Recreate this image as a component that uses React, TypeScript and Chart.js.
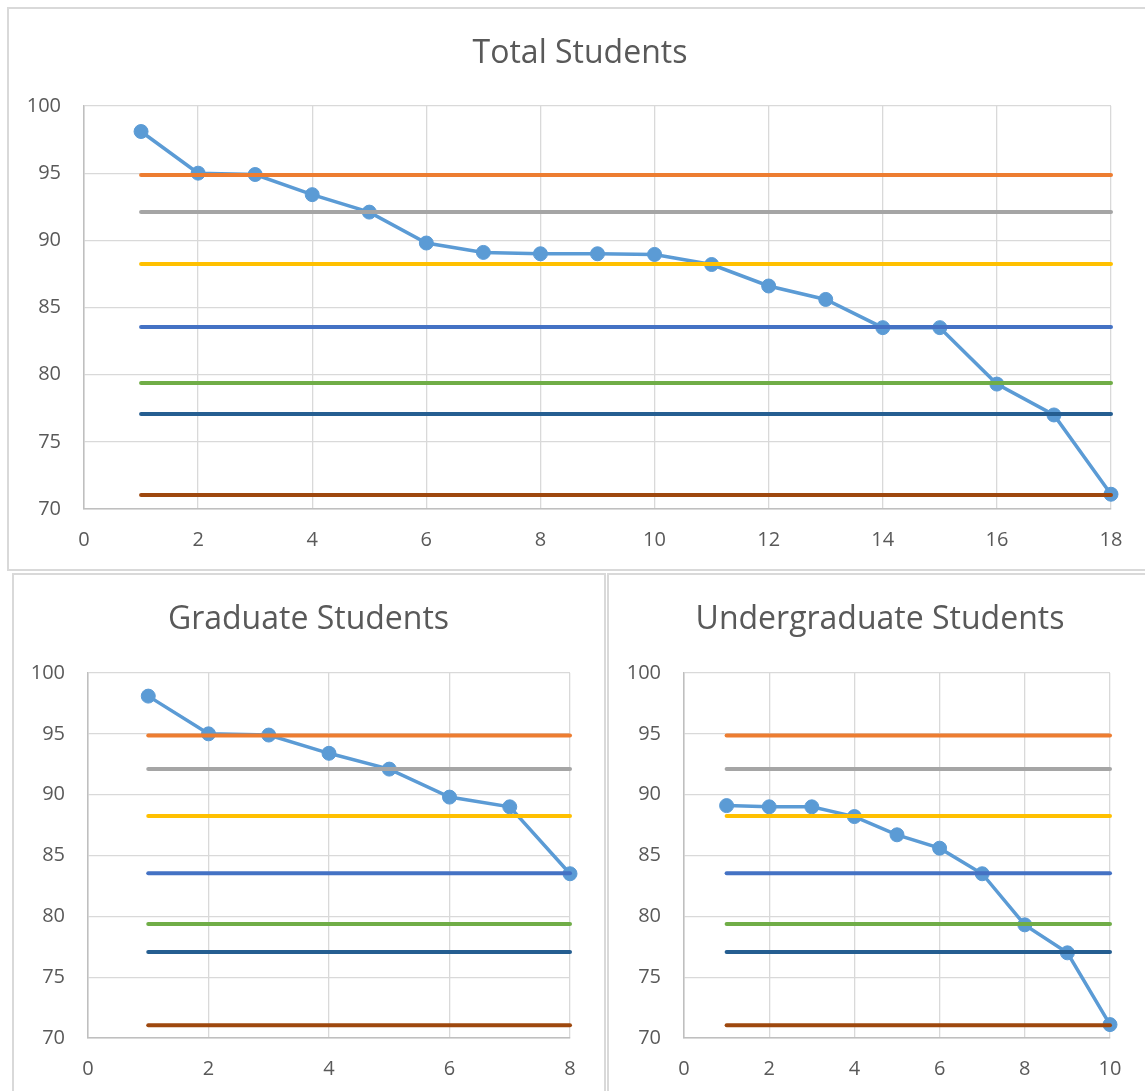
import React, { useEffect, useRef } from "react";
import { Chart, registerables } from "chart.js";

Chart.register(...registerables);

const totalValues = [98.1, 95.0, 94.9, 93.4, 92.1, 89.8, 89.1, 89.0, 89.0, 88.95, 88.2, 86.6, 85.6, 83.5, 83.5, 79.3, 77.0, 71.1];
const graduateValues = [98.1, 95.0, 94.9, 93.4, 92.1, 89.8, 89.0, 83.5];
const undergraduateValues = [89.1, 89.0, 89.0, 88.2, 86.7, 85.6, 83.5, 79.3, 77.0, 71.1];
const thresholdValues = [94.86, 92.1, 88.24, 83.55, 79.38, 77.07, 71.04];
const thresholdColors = ["#ED7D31", "#A5A5A5", "#FFC000", "#4472C4", "#70AD47", "#255E91", "#9E480E"];
const seriesColor = "#5B9BD5";
const titles = ["Total Students", "Graduate Students", "Undergraduate Students"];
const xMaxes = [18, 8, 10];

const FONT = "'Open Sans', 'Liberation Sans', sans-serif";
const TEXT = "#595959";

type Props = {
  left: number; top: number; width: number; height: number;
  title: string; values: number[]; xMax: number;
  rightWidth: number; yWidth: number; xHeight: number; titleBottom: number;
};

function LineChart(p: Props) {
  const ref = useRef<HTMLCanvasElement | null>(null);
  useEffect(() => {
    const canvas = ref.current;
    if (!canvas) return;
    const n = p.values.length;
    const datasets: any[] = thresholdValues.map((v, i) => ({
      label: "t" + i,
      data: [{ x: 1, y: v }, { x: n, y: v }],
      showLine: true,
      borderColor: thresholdColors[i],
      backgroundColor: thresholdColors[i],
      borderWidth: 4,
      borderCapStyle: "round",
      pointRadius: 0,
      pointHoverRadius: 0,
      clip: false,
      order: i,
    }));
    datasets.push({
      label: p.title,
      data: p.values.map((v, i) => ({ x: i + 1, y: v })),
      showLine: true,
      borderColor: seriesColor,
      backgroundColor: seriesColor,
      borderWidth: 3.5,
      pointRadius: 7,
      pointBorderWidth: 1,
      pointBorderColor: seriesColor,
      pointBackgroundColor: seriesColor,
      clip: false,
      order: 20,
    });
    const chart = new Chart(canvas, {
      type: "scatter",
      data: { datasets },
      options: {
        animation: false,
        responsive: false,
        devicePixelRatio: 1,
        layout: { padding: 0 },
        plugins: {
          legend: { display: false },
          tooltip: { enabled: false },
          title: {
            display: true,
            text: p.title,
            color: TEXT,
            font: { family: FONT, size: 32, weight: "normal", lineHeight: 1.2 },
            padding: { top: 28, bottom: p.titleBottom },
          },
        },
        scales: {
          x: {
            type: "linear",
            min: 0,
            max: p.xMax,
            afterFit: (s: any) => { s.height = p.xHeight; },
            ticks: { stepSize: 2, color: TEXT, padding: 19, font: { family: FONT, size: 20 } },
            grid: { color: "#D9D9D9", lineWidth: 1.3, drawTicks: false },
            border: { color: "#BFBFBF", width: 1.5 },
          },
          y: {
            type: "linear",
            min: 70,
            max: 100,
            afterFit: (s: any) => { s.width = p.yWidth; },
            ticks: { stepSize: 5, color: TEXT, padding: 23, font: { family: FONT, size: 20 } },
            grid: { color: "#D9D9D9", lineWidth: 1.3, drawTicks: false },
            border: { color: "#BFBFBF", width: 1.5 },
          },
          spacer: {
            type: "linear",
            position: "right",
            display: true,
            afterFit: (s: any) => { s.width = p.rightWidth; },
            ticks: { display: false },
            grid: { display: false, drawTicks: false },
            border: { display: false },
          },
        },
      },
    });
    return () => chart.destroy();
  }, []);
  return (
    <canvas
      ref={ref}
      width={p.width}
      height={p.height}
      style={{ position: "absolute", left: p.left, top: p.top, width: p.width, height: p.height }}
    />
  );
}

const boxStyle = (left: number, top: number, width: number, height: number): React.CSSProperties => ({
  position: "absolute", left, top, width, height, border: "2px solid #D9D9D9", boxSizing: "border-box",
});

export default function App() {
  return (
    <div style={{ position: "absolute", left: 0, top: 0, width: 1145, height: 1091, overflow: "hidden", background: "#fff" }}>
      <div style={boxStyle(7, 7, 1160, 564)} />
      <div style={boxStyle(12, 573, 594, 600)} />
      <div style={boxStyle(607, 573, 600, 600)} />
      <LineChart left={7} top={7} width={1146} height={563} title={titles[0]} values={totalValues} xMax={xMaxes[0]}
        rightWidth={42} yWidth={77} xHeight={61} titleBottom={32.6} />
      <LineChart left={12} top={573} width={593} height={518} title={titles[1]} values={graduateValues} xMax={xMaxes[1]}
        rightWidth={35} yWidth={76} xHeight={53} titleBottom={33.6} />
      <LineChart left={607} top={573} width={546} height={518} title={titles[2]} values={undergraduateValues} xMax={xMaxes[2]}
        rightWidth={43} yWidth={77} xHeight={53} titleBottom={33.6} />
    </div>
  );
}
